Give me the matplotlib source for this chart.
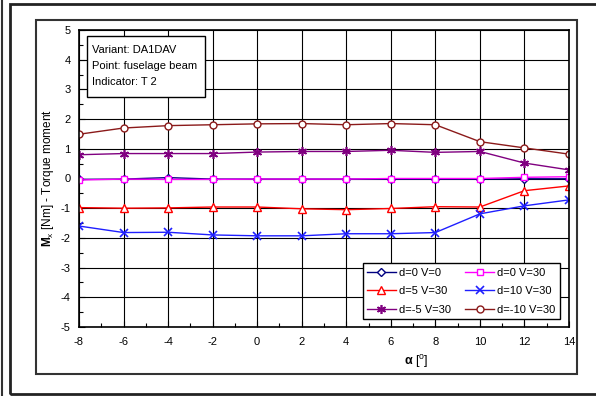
import numpy as np
import matplotlib
matplotlib.use("Agg")
import matplotlib.pyplot as plt
from matplotlib.patches import Rectangle
from matplotlib.lines import Line2D

plt.rcParams['font.family'] = ['Liberation Sans', 'DejaVu Sans']
plt.rcParams['mathtext.fontset'] = 'custom'
plt.rcParams['mathtext.rm'] = 'Liberation Sans'
plt.rcParams['mathtext.bf'] = 'Liberation Sans:bold'
plt.rcParams['mathtext.it'] = 'Liberation Sans:italic'
plt.rcParams['axes.unicode_minus'] = False

# angle of attack
alpha = [-8, -6, -4, -2, 0, 2, 4, 6, 8, 10, 12, 14]

# torque moment Mx [Nm]
d0_v0 = [-0.03, -0.02, 0.03, -0.02, -0.02, -0.02, -0.02, -0.02, -0.02, -0.02, -0.01, -0.01]
d0_v30 = [-0.05, -0.02, -0.03, -0.03, -0.02, -0.02, -0.02, 0.0, 0.0, 0.0, 0.04, 0.06]
d5_v30 = [-0.98, -1.0, -0.99, -0.96, -0.96, -1.02, -1.05, -1.01, -0.95, -0.96, -0.41, -0.25]
d10_v30 = [-1.6, -1.82, -1.81, -1.9, -1.93, -1.93, -1.86, -1.86, -1.82, -1.19, -0.92, -0.72]
dm5_v30 = [0.8, 0.84, 0.84, 0.84, 0.89, 0.91, 0.91, 0.95, 0.88, 0.91, 0.52, 0.29]
dm10_v30 = [1.49, 1.7, 1.78, 1.81, 1.84, 1.85, 1.81, 1.85, 1.81, 1.24, 1.03, 0.82]

info_lines = ["Variant: DA1DAV", "Point: fuselage beam", "Indicator: T 2"]

W, H = 596, 396
fig = plt.figure(figsize=(W / 100, H / 100), dpi=100)

# frames around the chart (pixel positions converted to figure coords)
def px_rect(x0, y0, x1, y1, **kw):
    r = Rectangle((x0 / W, 1 - y1 / H), (x1 - x0) / W, (y1 - y0) / H,
                  transform=fig.transFigure, fill=False, **kw)
    fig.add_artist(r)

px_rect(10, 4, 640, 394, lw=2.0, ec='#222222')
px_rect(36, 20, 577, 374, lw=1.5, ec='#333333')
fig.add_artist(Line2D([2 / W, 2 / W], [0, 1], transform=fig.transFigure, lw=1.5, color='#333333'))

AX_W, AX_H = 490, 297
ax = fig.add_axes([79 / W, 1 - 327 / H, AX_W / W, AX_H / H])

ax.set_xlim(-8, 14)
ax.set_ylim(-5, 5)
ax.set_xticks(np.arange(-8, 15, 2))
ax.set_xticks(np.arange(-7, 14, 2), minor=True)
ax.set_yticks(np.arange(-5, 6, 1))
ax.set_yticks(np.arange(-4.5, 5, 1), minor=True)
ax.tick_params(which='major', direction='in', length=4, width=0.8, labelsize=8)
ax.tick_params(axis='y', which='major', pad=6)
ax.tick_params(axis='x', which='major', pad=7)
ax.tick_params(which='minor', direction='in', length=3, width=0.8)
ax.grid(True, which='major', color='black', lw=0.8)
for s in ax.spines.values():
    s.set_linewidth(1.2)
ax.set_axisbelow(True)

series = [
    (d0_v0, 'd=0 V=0', '#000080', 'D', 4),
    (d0_v30, 'd=0 V=30', '#FF00FF', 's', 5),
    (d5_v30, 'd=5 V=30', '#FF0000', '^', 5.5),
    (d10_v30, 'd=10 V=30', '#1F1FFF', 'x', 6),
    (dm5_v30, 'd=-5 V=30', '#800080', (6, 2, 0), 6.5),
    (dm10_v30, 'd=-10 V=30', '#8B1A1A', 'o', 5),
]

handles = {}
for vals, name, col, mk, ms in series:
    if mk in ('x',) or isinstance(mk, tuple):
        ln, = ax.plot(alpha, vals, color=col, lw=1.0, marker=mk, ms=ms, mew=1.2, label=name)
    else:
        ln, = ax.plot(alpha, vals, color=col, lw=1.0, marker=mk, ms=ms, mfc='white',
                      mec=col, mew=1.0, label=name)
    handles[name] = ln

order = ['d=0 V=0', 'd=5 V=30', 'd=-5 V=30', 'd=0 V=30', 'd=10 V=30', 'd=-10 V=30']
leg = ax.legend([handles[k] for k in order], order, ncol=2, fontsize=8,
                loc='lower right', bbox_to_anchor=(1.0 - 9 / AX_W, 8 / AX_H),
                frameon=True, fancybox=False, edgecolor='black', framealpha=1,
                handlelength=2.6, handletextpad=0.3, columnspacing=1.25,
                labelspacing=0.75, borderpad=0.4, borderaxespad=0)
leg.get_frame().set_linewidth(1.0)

# info box, pixel offsets measured from the axes top-left corner
box = Rectangle((8 / AX_W, 1 - 67 / AX_H), 118 / AX_W, 61 / AX_H, transform=ax.transAxes,
                fc='white', ec='black', lw=1.0, zorder=5)
ax.add_patch(box)
for i, line in enumerate(info_lines):
    ax.text(13 / AX_W, 1 - (20 + 16 * i) / AX_H, line, transform=ax.transAxes,
            fontsize=8, va='center', ha='left', zorder=6)

ax.set_ylabel(r"$\mathbf{M}_{\mathrm{x}}$ [Nm] - Torque moment", fontsize=8.5)
ax.yaxis.set_label_coords(-23 / AX_W, 0.5)
ax.set_xlabel(r"$\mathbf{α}$ [$^{\mathrm{o}}$]", fontsize=9)
ax.xaxis.set_label_coords((416 - 79) / AX_W, -26 / AX_H)

fig.savefig("out.png", dpi=100)
